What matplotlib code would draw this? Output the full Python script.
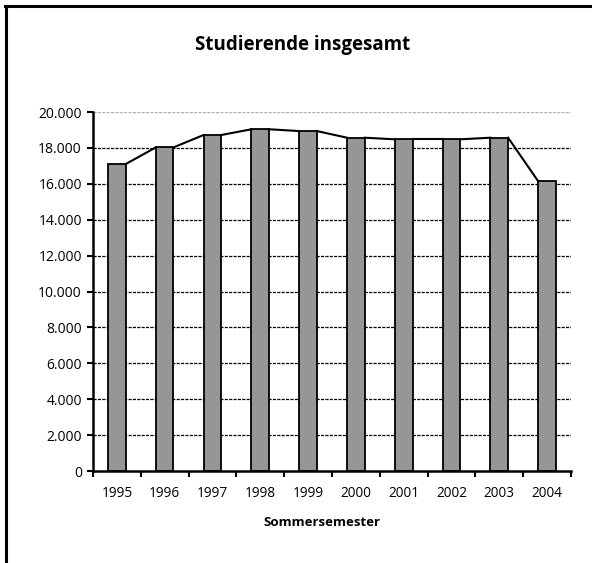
import matplotlib.pyplot as plt
import matplotlib
from matplotlib.lines import Line2D
from matplotlib.ticker import FuncFormatter

matplotlib.rcParams['font.family'] = ['Open Sans', 'DejaVu Sans']

# Values (students per summer semester)
years = ['1995', '1996', '1997', '1998', '1999', '2000', '2001', '2002', '2003', '2004']
students = [17100, 18030, 18720, 19040, 18940, 18570, 18480, 18480, 18570, 16140]
y_ticks = [0, 2000, 4000, 6000, 8000, 10000, 12000, 14000, 16000, 18000, 20000]

fig = plt.figure(figsize=(5.92, 5.63), dpi=100)
ax = fig.add_axes([0.157, 0.1634, 0.8075, 0.6376])

x = list(range(len(years)))
w = 0.37

# gridlines behind the bars; top one is light gray
for t in y_ticks[1:]:
    col = '#b0b0b0' if t == y_ticks[-1] else 'black'
    ax.axhline(t, color=col, lw=0.9, ls=(0, (2.5, 1)), zorder=0)

ax.bar(x, students, width=w, color='#969696', edgecolor='black', lw=1.3, zorder=2)

# series lines: right top corner of one bar to left top corner of the next
for i in range(len(x) - 1):
    ax.plot([x[i] + w / 2, x[i + 1] - w / 2], [students[i], students[i + 1]],
            color='black', lw=1.5, zorder=3)

ax.set_xlim(-0.5, len(x) - 0.5)
ax.set_ylim(0, 20000)
ax.set_yticks(y_ticks)
ax.yaxis.set_major_formatter(FuncFormatter(lambda v, p: f'{int(v):,}'.replace(',', '.')))

ax.set_xticks([i - 0.5 for i in range(len(x) + 1)])
ax.set_xticklabels([])
ax.set_xticks(x, minor=True)
ax.set_xticklabels(years, minor=True)
ax.tick_params(axis='x', which='minor', length=0, pad=11, labelsize=9.8)
ax.tick_params(axis='x', which='major', length=4, width=1.5, direction='out')
ax.tick_params(axis='y', length=4, width=1.5, direction='out', labelsize=10, pad=4)

for s in ['top', 'right']:
    ax.spines[s].set_visible(False)
for s in ['left', 'bottom']:
    ax.spines[s].set_linewidth(1.8)

ax.set_xlabel('Sommersemester', fontsize=9.5, fontweight='bold')
ax.xaxis.set_label_coords(0.478, -0.125)
fig.text(0.511, 0.92, 'Studierende insgesamt', ha='center', va='center',
         fontsize=13.5, fontweight='bold')

# outer frame: only top and left edges are visible
fig.add_artist(Line2D([0.009, 1.0], [0.99, 0.99], transform=fig.transFigure,
                      color='black', lw=2.2))
fig.add_artist(Line2D([0.0095, 0.0095], [0.0, 0.99], transform=fig.transFigure,
                      color='black', lw=2.2))

plt.savefig('out.png', dpi=100)
